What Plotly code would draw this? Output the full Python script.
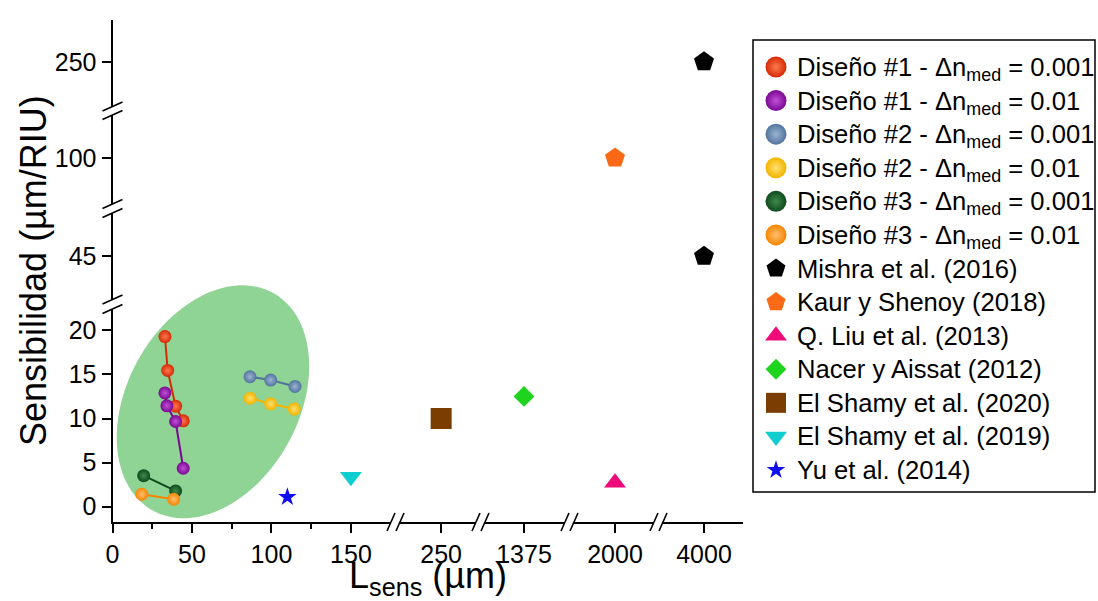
import numpy as np
import plotly.graph_objects as go

W, H = 1098, 601
FONT = "Liberation Sans, Arial, sans-serif"

# ---------------- data ----------------
# Present designs (L_sens in µm, sensitivity in µm/RIU)
d1_001_x = [33, 34.7, 39.7, 44.5]
d1_001_y = [19.3, 15.45, 11.4, 9.74]
d1_01_x = [33, 34.2, 39.7, 44.5]
d1_01_y = [12.9, 11.44, 9.66, 4.36]
d2_001_x = [86.5, 99.5, 114.8]
d2_001_y = [14.74, 14.36, 13.64]
d2_01_x = [86.5, 99.5, 114.3]
d2_01_y = [12.3, 11.67, 11.07]
d3_001_x = [19.6, 39.7]
d3_001_y = [3.52, 1.78]
d3_01_x = [18.4, 38.5]
d3_01_y = [1.41, 0.84]

# Literature references
mishra_x, mishra_y = [4000, 4000], [45, 250]
kaur_x, kaur_y = [2000], [100]
liu_x, liu_y = [2000], [2.7]
nacer_x, nacer_y = [1375], [12.5]
shamy20_x, shamy20_y = [250], [10]
shamy19_x, shamy19_y = [150], [3.4]
yu_x, yu_y = [110], [1.1]

# Tick values of each broken-axis segment
x_ticks_seg = [[0, 50, 100, 150], [250], [1375], [2000], [4000]]
x_minor_seg1 = [25, 75, 125]
y_ticks_seg = [[0, 5, 10, 15, 20], [45], [100], [250]]


# ---------------- layout helpers (pixel -> paper) ----------------
def px(x):
    return x / W


def py(y):
    return (H - y) / H


X_SEGS = [  # left px, right px, range
    (112.5, 391, [0, 175.2]),
    (400, 476, [224, 272]),
    (485, 565, [1336, 1416]),
    (574, 654, [1959, 2039]),
    (663, 743, [3959, 4039]),
]
Y_SEGS = [  # bottom px, top px, range
    (522, 278, [-1.74, 25.94]),
    (299.5, 213, [25, 65]),
    (204, 115, [54, 143]),
    (106.5, 20, [205, 292]),
]
X_GAPS = [(391, 400), (476, 485), (565, 574), (654, 663)]
Y_GAPS = [(309, 299.5), (213, 204), (115, 106.5)]
AXIS_X_PX, AXIS_Y_PX = 112.5, 522
LEGEND_BOX = (753, 40, 1095, 492)  # left, top, right, bottom (px)

fig = go.Figure()


def ax_id(letter, i):
    return letter if i == 0 else f"{letter}{i + 1}"


# Design series: (label, x, y, colour, highlight colour)
designs = [
    ("Diseño #1 - Δn<sub>med</sub> = 0.001", d1_001_x, d1_001_y, "#d42a06", "#ff7a50"),
    ("Diseño #1 - Δn<sub>med</sub> = 0.01", d1_01_x, d1_01_y, "#7a0892", "#c050d8"),
    ("Diseño #2 - Δn<sub>med</sub> = 0.001", d2_001_x, d2_001_y, "#52749c", "#9ab4d4"),
    ("Diseño #2 - Δn<sub>med</sub> = 0.01", d2_01_x, d2_01_y, "#f2b400", "#ffe070"),
    ("Diseño #3 - Δn<sub>med</sub> = 0.001", d3_001_x, d3_001_y, "#0e4a1c", "#3f8a4c"),
    ("Diseño #3 - Δn<sub>med</sub> = 0.01", d3_01_x, d3_01_y, "#f78400", "#ffc070"),
]
for name, xs, ys, col, light in designs:
    fig.add_trace(go.Scatter(x=xs, y=ys, mode="lines", line=dict(color=col, width=2),
                             showlegend=False, hoverinfo="skip", xaxis="x", yaxis="y"))
for name, xs, ys, col, light in designs:
    fig.add_trace(go.Scatter(
        x=xs, y=ys, mode="markers", name=name, showlegend=False,
        marker=dict(size=13, color=col, line=dict(width=0),
                    gradient=dict(type="radial", color=light)),
        xaxis="x", yaxis="y", cliponaxis=False))

# Reference works: (label, x, y, symbol, size, colour, x segment, y segment)
refs = [
    ("Mishra et al. (2016)", mishra_x[:1], mishra_y[:1], "pentagon", 21, "#000000", 4, 1),
    ("Mishra et al. (2016)", mishra_x[1:], mishra_y[1:], "pentagon", 21, "#000000", 4, 3),
    ("Kaur y Shenoy (2018)", kaur_x, kaur_y, "pentagon", 21, "#fa6a16", 3, 2),
    ("Q. Liu et al. (2013)", liu_x, liu_y, "triangle-up", 19, "#ee0a78", 3, 0),
    ("Nacer y Aissat (2012)", nacer_x, nacer_y, "diamond", 16, "#1ed41e", 2, 0),
    ("El Shamy et al. (2020)", shamy20_x, shamy20_y, "square", 21, "#7b3d02", 1, 0),
    ("El Shamy et al. (2019)", shamy19_x, shamy19_y, "triangle-down", 19, "#10cdd0", 0, 0),
    ("Yu et al. (2014)", yu_x, yu_y, "star", 14, "#0f0ff2", 0, 0),
]
for name, xs, ys, sym, size, col, xi, yi in refs:
    fig.add_trace(go.Scatter(
        x=xs, y=ys, mode="markers", name=name, showlegend=False,
        marker=dict(symbol=sym, size=size, color=col, line=dict(width=0)),
        xaxis=ax_id("x", xi), yaxis=ax_id("y", yi), cliponaxis=False))

# ---------------- legend (own axis pair, one row per entry) ----------------
legend_rows = [(lab, "circle", 21, col, light) for lab, _, _, col, light in designs]
seen = set()
for name, xs, ys, sym, size, col, xi, yi in refs:
    if name in seen:
        continue
    seen.add(name)
    legend_rows.append((name, sym, min(size, 20) if sym != "diamond" else 16, col, None))

lx0, ly0, lx1, ly1 = LEGEND_BOX
LEG_SYMBOL_X, LEG_TEXT_PX = 23, lx0 + 42
annotations = []
for row, (lab, sym, size, col, light) in enumerate(legend_rows):
    mk = dict(symbol=sym, size=size, color=col, line=dict(width=0))
    if light:
        mk["gradient"] = dict(type="radial", color=light)
    fig.add_trace(go.Scatter(x=[LEG_SYMBOL_X], y=[row], mode="markers", marker=mk,
                             showlegend=False, hoverinfo="skip",
                             xaxis="x6", yaxis="y5", cliponaxis=False))
    annotations.append(dict(text=lab, x=px(LEG_TEXT_PX), y=row, xref="paper", yref="y5",
                            xanchor="left", yanchor="middle", showarrow=False,
                            yshift=-2 if "<sub>" in lab else 0,
                            font=dict(family=FONT, size=25.6, color="black")))

# ---------------- axes ----------------
common = dict(showline=True, linecolor="black", linewidth=2, ticks="outside",
              ticklen=9, tickwidth=2, tickcolor="black", showgrid=False,
              zeroline=False, automargin=False,
              tickfont=dict(family=FONT, size=25, color="black"), fixedrange=True)
axes = {}
for i, (l, r, rng) in enumerate(X_SEGS):
    key = "xaxis" if i == 0 else f"xaxis{i + 1}"
    a = dict(common, domain=[px(l), px(r)], range=rng, anchor="y",
             tickmode="array", tickvals=x_ticks_seg[i],
             ticktext=[str(v) for v in x_ticks_seg[i]])
    if i == 0:
        a["minor"] = dict(tickmode="array", tickvals=x_minor_seg1, ticks="outside",
                          ticklen=5, tickwidth=2, tickcolor="black", showgrid=False)
    axes[key] = a
for i, (b, t, rng) in enumerate(Y_SEGS):
    key = "yaxis" if i == 0 else f"yaxis{i + 1}"
    axes[key] = dict(common, domain=[py(b), py(t)], range=rng, anchor="x",
                     tickmode="array", tickvals=y_ticks_seg[i],
                     ticktext=[str(v) for v in y_ticks_seg[i]])

row_pitch = 33.6
axes["xaxis6"] = dict(domain=[px(lx0), px(lx1)], range=[0, lx1 - lx0], anchor="y5",
                      visible=False, fixedrange=True)
axes["yaxis5"] = dict(domain=[py(ly1), py(ly0)], anchor="x6", visible=False,
                      range=[len(legend_rows) - 1 + 22 / row_pitch, -27 / row_pitch],
                      fixedrange=True)
fig.update_layout(**axes)

# ---------------- shapes ----------------
shapes = []
# highlighted region around the present designs (rotated ellipse)
ell_c = (63.2, 11.9)
ell_u = (37.9, 12.34)
ell_v = (-47.2, 4.72)
t = np.linspace(0, 2 * np.pi, 120)
ex = ell_c[0] + ell_u[0] * np.cos(t) + ell_v[0] * np.sin(t)
ey = ell_c[1] + ell_u[1] * np.cos(t) + ell_v[1] * np.sin(t)
path = "M " + " L ".join(f"{a:.3f},{b:.3f}" for a, b in zip(ex, ey)) + " Z"
shapes.append(dict(type="path", path=path, xref="x", yref="y", layer="below",
                   fillcolor="#8fd494", line=dict(width=0)))

# white gap in the y axis line at the first break
g0, g1 = Y_GAPS[0]
shapes.append(dict(type="rect", xref="paper", yref="paper",
                   x0=px(AXIS_X_PX - 4), x1=px(AXIS_X_PX + 4), y0=py(g0), y1=py(g1),
                   fillcolor="white", line=dict(width=0), layer="above"))
# break marks
for a, b in Y_GAPS:
    for yy in (a, b):
        shapes.append(dict(type="line", xref="paper", yref="paper",
                           x0=px(AXIS_X_PX - 10), y0=py(yy + 4.5),
                           x1=px(AXIS_X_PX + 10), y1=py(yy - 4.5),
                           line=dict(color="black", width=1.6), layer="above"))
for a, b in X_GAPS:
    for xx in (a, b):
        shapes.append(dict(type="line", xref="paper", yref="paper",
                           x0=px(xx - 4), y0=py(AXIS_Y_PX + 9),
                           x1=px(xx + 4), y1=py(AXIS_Y_PX - 9),
                           line=dict(color="black", width=1.6), layer="above"))
# legend frame
shapes.append(dict(type="rect", xref="paper", yref="paper",
                   x0=px(lx0), x1=px(lx1), y0=py(ly1), y1=py(ly0),
                   line=dict(color="black", width=1.5), fillcolor="rgba(0,0,0,0)",
                   layer="below"))

annotations += [
    dict(text="Sensibilidad (µm/RIU)", x=px(33), y=py(271), xref="paper", yref="paper",
         textangle=-90, showarrow=False, xanchor="center", yanchor="middle",
         font=dict(family=FONT, size=36, color="black")),
    dict(text="L<sub>sens</sub> (µm)", x=px(428), y=py(578), xref="paper", yref="paper",
         showarrow=False, xanchor="center", yanchor="middle", borderpad=0,
         font=dict(family=FONT, size=36, color="black")),
]

fig.update_layout(
    width=W, height=H,
    margin=dict(l=0, r=0, t=0, b=0),
    paper_bgcolor="white", plot_bgcolor="rgba(0,0,0,0)",
    shapes=shapes, annotations=annotations,
    showlegend=False,
    hovermode=False,
)

fig.write_html("out.html")
